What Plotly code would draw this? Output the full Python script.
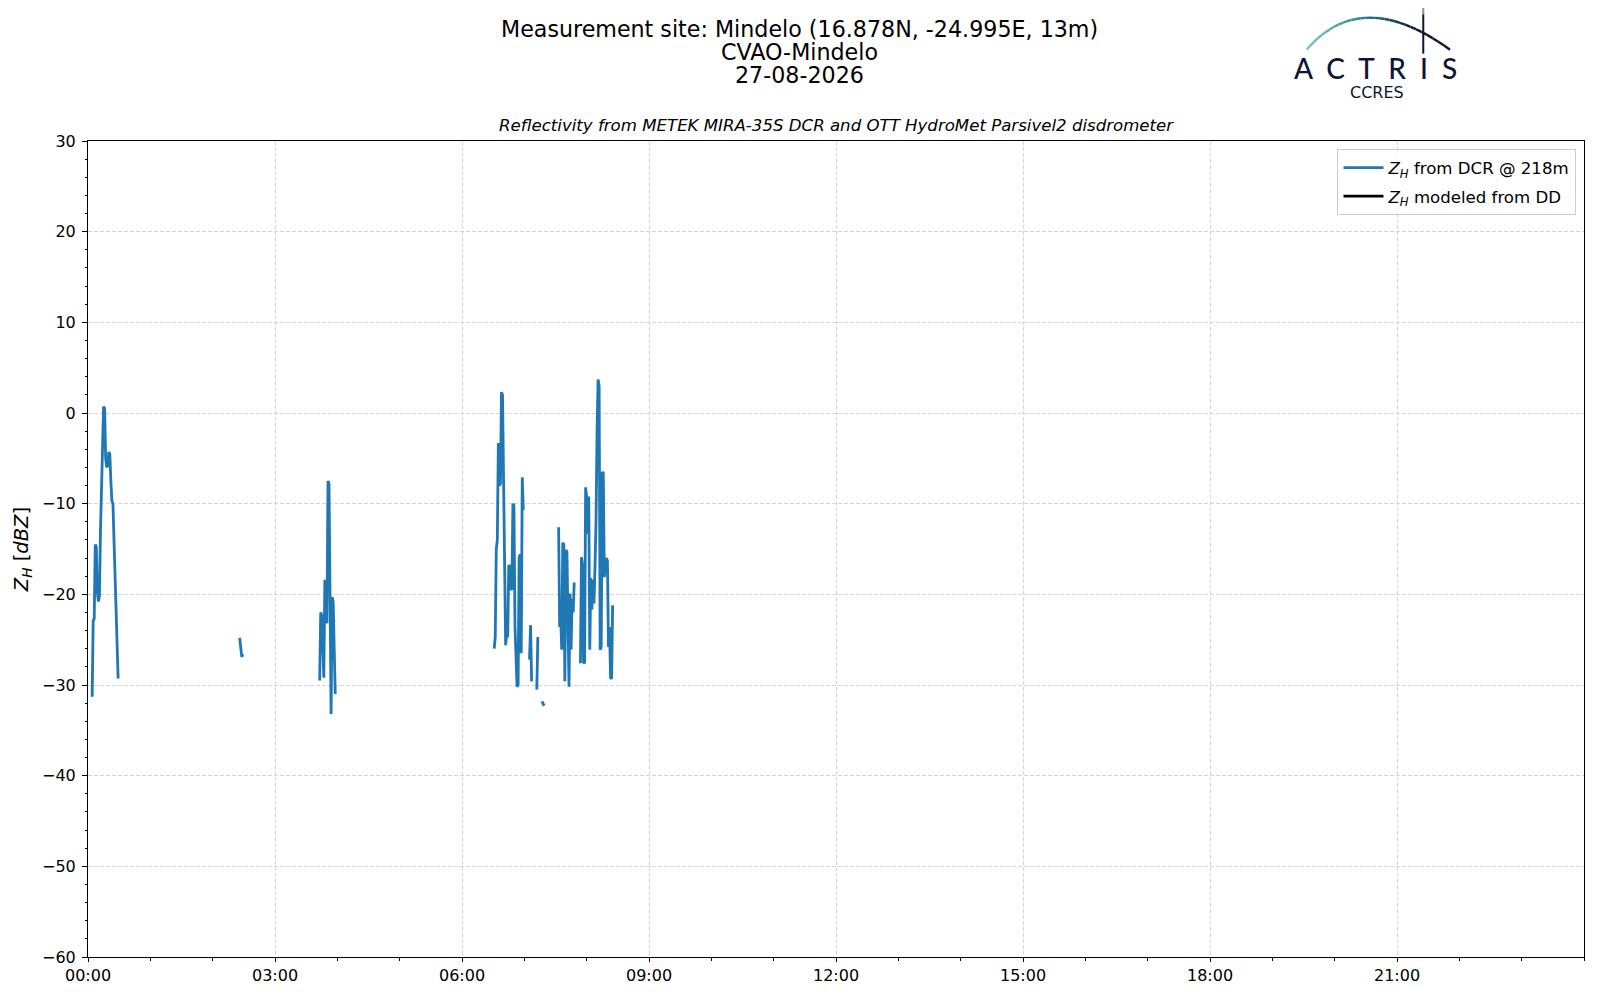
import plotly.graph_objects as go

# Z_H from the cloud radar (DCR) at 218 m, one value per minute, None marks a gap
times = [
    "00:04", "00:05", "00:06", "00:07", "00:08", "00:09", "00:10", "00:11", "00:12", "00:13",
    "00:14", "00:15", "00:16", "00:17", "00:18", "00:19", "00:20", "00:21", "00:22", "00:23",
    "00:24", "00:25", "00:26", "00:27", "00:28", "00:29", "00:30",
    "02:26", "02:27", "02:28", "02:29", "02:30",
    "03:43", "03:44", "03:45", "03:46", "03:47", "03:48", "03:49", "03:50", "03:51", "03:52",
    "03:53", "03:54", "03:55", "03:56", "03:57", "03:58", "03:59",
    "06:31", "06:32", "06:33", "06:34", "06:35", "06:36", "06:37", "06:38", "06:39", "06:40",
    "06:41", "06:42", "06:43", "06:44", "06:45", "06:46", "06:47", "06:48", "06:49", "06:50",
    "06:51", "06:52", "06:53", "06:54", "06:55", "06:56", "06:57", "06:58", "06:59", "07:00",
    "07:05", "07:06", "07:07", "07:08",
    "07:12", "07:13", "07:14",
    "07:17", "07:18", "07:19", "07:20",
    "07:33", "07:34", "07:35", "07:36", "07:37", "07:38", "07:39", "07:40", "07:41", "07:42",
    "07:43", "07:44", "07:45", "07:46", "07:47", "07:48", "07:49",
    "07:54", "07:55", "07:56", "07:57", "07:58", "07:59", "08:00", "08:01", "08:02", "08:03",
    "08:04", "08:05", "08:06", "08:07", "08:08", "08:09", "08:10", "08:11", "08:12", "08:13",
    "08:14", "08:15", "08:16", "08:17", "08:18", "08:19", "08:20", "08:21", "08:22", "08:23",
    "08:24", "08:25",
]
zh_dcr = [
    -31.3, -22.9, -22.7, -14.5, -14.8, -19.8, -20.8, -20.2, -13.0, -8.3,
    -3.0, 0.7, 0.5, -5.0, -6.0, -5.8, -4.3, -4.5, -7.5, -9.7,
    -10.0, -13.5, -17.5, -20.0, -24.0, -29.3, None,
    -24.8, -25.9, -26.9, -26.6, None,
    -29.5, -22.0, -22.3, -25.5, -29.2, -18.4, -19.0, -23.2, -7.5, -7.8,
    -23.0, -33.2, -20.3, -20.8, -26.0, -31.0, None,
    -26.0, -24.7, -15.0, -14.0, -3.3, -8.0, -7.8, 2.3, 2.0, -10.0,
    -18.8, -25.6, -24.5, -24.7, -16.8, -16.9, -19.5, -19.4, -10.0, -10.2,
    -23.6, -27.0, -30.2, -30.0, -15.9, -15.6, -26.5, -7.1, -10.7, None,
    -27.2, -23.4, -29.6, None,
    -30.5, -24.7, None,
    -31.8, -32.0, -32.3, None,
    -12.6, -23.6, -22.5, -26.1, -14.3, -14.5, -29.6, -15.1, -15.3, -25.0,
    -30.2, -19.9, -26.1, -20.5, -22.0, -18.7, None,
    -27.6, -15.9, -16.8, -27.6, -27.5, -8.2, -9.3, -13.3, -9.2, -26.1,
    -18.2, -21.7, -18.4, -21.0, -17.0, -12.0, -2.0, 3.7, 3.0, -26.1,
    -25.8, -6.5, -6.6, -18.1, -17.0, -16.0, -16.3, -25.8, -23.6, -29.2,
    -29.3, -21.2,
]

# Z_H modeled from the disdrometer: no data this day
dd_times = [None]
zh_dd = [None]

# labelled hours on the time axis
tick_labels = ["00:00", "03:00", "06:00", "09:00", "12:00", "15:00", "18:00", "21:00"]

day = "2026-08-27"
x_dcr = [f"{day} {t}" for t in times]

# plot area in page pixels (the page body adds an 8 px offset)
X0, X1, Y0, Y1 = 88.3, 1584.0, 140.7, 957.3
BODY = 8


def px(x):
    return (x - X0) / (X1 - X0)


def py(y):
    return (Y1 - y) / (Y1 - Y0)


fig = go.Figure()
fig.add_trace(go.Scatter(
    x=x_dcr, y=zh_dcr, mode="lines", connectgaps=False,
    name="<i>Z</i><sub><i>H</i></sub> from DCR @ 218m", legendgroup="dcr",
    line=dict(color="#1f77b4", width=2.8),
))
fig.add_trace(go.Scatter(
    x=dd_times, y=zh_dd, mode="lines",
    name="<i>Z</i><sub><i>H</i></sub> modeled from DD", legendgroup="dd",
    line=dict(color="black", width=2.8),
))

axis_common = dict(
    showline=True, linecolor="black", linewidth=1, mirror=True,
    ticks="outside", tickwidth=1, tickcolor="black",
    showgrid=True, gridcolor="#d5d5d5", griddash="4px,2px", gridwidth=1,
    zeroline=False, tickfont=dict(size=16, color="black"),
)

fig.update_xaxes(
    **axis_common, ticklen=4, ticklabelstandoff=0,
    type="date", range=[f"{day} 00:00", "2026-08-28 00:00"],
    tickmode="array", tickvals=[f"{day} {t}" for t in tick_labels], ticktext=tick_labels,
    minor=dict(dtick=3600 * 1000, tick0=f"{day} 00:00", ticks="outside", ticklen=2.5,
               tickcolor="black", showgrid=False),
)
fig.update_yaxes(
    **axis_common, ticklen=5, ticklabelstandoff=3,
    range=[-60, 30], dtick=10, tick0=0,
    minor=dict(dtick=2, ticks="outside", ticklen=2.5, tickcolor="black", showgrid=False),
)

font_main = "DejaVu Sans"
annotations = [
    dict(text="Measurement site: Mindelo (16.878N, -24.995E, 13m)", x=px(800), y=py(28.5), size=22.2),
    dict(text="CVAO-Mindelo", x=px(800), y=py(51.3), size=22.2),
    dict(text="27-08-2026", x=px(800), y=py(74.5), size=22.2),
    dict(text="<i>Reflectivity from METEK MIRA-35S DCR and OTT HydroMet Parsivel2 disdrometer</i>",
         x=0.5, y=py(125.5), size=16.6),
]
for a in annotations:
    fig.add_annotation(
        text=a["text"], x=a["x"], y=a["y"], xref="paper", yref="paper",
        xanchor="center", yanchor="middle", showarrow=False,
        font=dict(family=font_main, size=a["size"], color="black"),
    )

fig.add_annotation(
    text="<i>Z</i><sub><i>H</i></sub> [<i>dBZ</i>]", x=px(23.5), y=py(550),
    xref="paper", yref="paper", textangle=-90, showarrow=False,
    xanchor="center", yanchor="middle",
    font=dict(family=font_main, size=19.5, color="black"),
)

# ACTRIS / CCRES logo: gradient arc, mast line and lettering
navy = "#0e1434"
stops = [(0.0, (124, 200, 196)), (0.35, (58, 150, 163)), (0.6, (24, 86, 112)), (0.8, (14, 20, 52)), (1.0, (14, 20, 52))]


def grad(t):
    for (t0, c0), (t1, c1) in zip(stops[:-1], stops[1:]):
        if t0 <= t <= t1:
            f = (t - t0) / (t1 - t0)
            return "rgb(%d,%d,%d)" % tuple(round(c0[i] + f * (c1[i] - c0[i])) for i in range(3))
    return navy


p0, p1, p2 = (1306.7, 49.3), (1361.7, -14.7), (1450.0, 49.3)
n = 30
pts = []
for i in range(n + 1):
    t = i / n
    bx = (1 - t) ** 2 * p0[0] + 2 * (1 - t) * t * p1[0] + t ** 2 * p2[0]
    by = (1 - t) ** 2 * p0[1] + 2 * (1 - t) * t * p1[1] + t ** 2 * p2[1]
    pts.append((bx, by))
for i in range(n):
    (xa, ya), (xb, yb) = pts[i], pts[i + 1]
    fig.add_shape(type="line", xref="paper", yref="paper",
                  x0=px(xa), y0=py(ya), x1=px(xb), y1=py(yb),
                  line=dict(color=grad((i + 0.5) / n), width=2.4))
fig.add_shape(type="line", xref="paper", yref="paper",
              x0=px(1423.3), y0=py(3.3), x1=px(1423.3), y1=py(14.0),
              line=dict(color="#8a8ea3", width=2))
fig.add_shape(type="line", xref="paper", yref="paper",
              x0=px(1423.3), y0=py(14.0), x1=px(1423.3), y1=py(53.3),
              line=dict(color=navy, width=2))
fig.add_annotation(
    text="A  C  T  R  I  S", x=px(1376.0), y=py(67.5), xref="paper", yref="paper",
    xanchor="center", yanchor="middle", showarrow=False,
    font=dict(family="Lato", size=28, color=navy, weight=500),
)
fig.add_annotation(
    text="CCRES", x=px(1376.7), y=py(92.5), xref="paper", yref="paper",
    xanchor="center", yanchor="middle", showarrow=False,
    font=dict(family="DejaVu Sans", size=16, color=navy),
)

fig.update_layout(
    width=1600, height=1000,
    margin=dict(l=X0 - BODY, r=1600 - X1 + BODY, t=Y0 - BODY, b=1000 - Y1 + BODY, autoexpand=False),
    paper_bgcolor="white", plot_bgcolor="white",
    font=dict(family=font_main, size=16, color="black"),
    showlegend=True,
    legend=dict(
        x=px(1576.5), y=py(149.0), xanchor="right", yanchor="top",
        bgcolor="rgba(255,255,255,0.8)", bordercolor="#cccccc", borderwidth=1,
        font=dict(family=font_main, size=16.6, color="black"),
        itemwidth=40, tracegroupgap=4,
    ),
)

fig.write_html("out.html")
